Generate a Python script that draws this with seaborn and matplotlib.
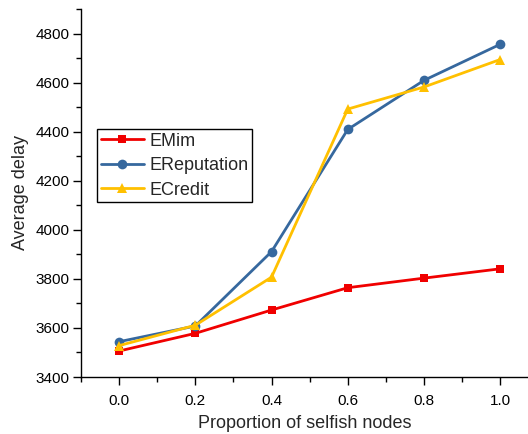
import matplotlib
matplotlib.use("Agg")
import matplotlib.pyplot as plt
import seaborn as sns
import pandas as pd
from matplotlib.ticker import MultipleLocator

# Proportion of selfish nodes and the measured average delay for each scheme
proportions = [0.0, 0.2, 0.4, 0.6, 0.8, 1.0]
emim = [3506, 3578, 3673, 3764, 3803, 3841]
ereputation = [3544, 3608, 3911, 4409, 4609, 4756]
ecredit = [3528, 3611, 3807, 4492, 4582, 4694]

series_names = ["EMim", "EReputation", "ECredit"]
series_colors = ["#F00000", "#36689E", "#FFC000"]
series_markers = ["s", "o", "^"]
marker_sizes = [6, 7, 7.5]

df = pd.DataFrame({
    "proportion": proportions * 3,
    "delay": emim + ereputation + ecredit,
    "scheme": [n for n in series_names for _ in proportions],
})

sns.set_style("ticks")
plt.rcParams["font.family"] = ["Liberation Sans", "DejaVu Sans"]

fig = plt.figure(figsize=(5.28, 4.34), dpi=100)
ax = fig.add_axes([0.1534, 0.1313, 0.8466, 0.8480])

for name, color, marker, ms in zip(series_names, series_colors, series_markers, marker_sizes):
    sub = df[df["scheme"] == name]
    sns.lineplot(data=sub, x="proportion", y="delay", ax=ax, color=color,
                 marker=marker, markersize=ms, markeredgewidth=0,
                 linewidth=2.0, label=name)

ax.set_xlim(-0.1, 1.073)
ax.set_ylim(3400, 4900)
ax.set_xticks(proportions)
ax.set_xticklabels([f"{p:.1f}" for p in proportions])
ax.set_yticks([3400, 3600, 3800, 4000, 4200, 4400, 4600, 4800])
ax.xaxis.set_minor_locator(MultipleLocator(0.1))
ax.yaxis.set_minor_locator(MultipleLocator(100))
ax.tick_params(axis="both", which="major", direction="out", length=6, width=1,
               labelsize=11, color="black", labelcolor="black")
ax.tick_params(axis="x", which="major", pad=6)
ax.tick_params(axis="y", which="major", pad=2)
ax.tick_params(axis="both", which="minor", direction="out", length=3.5, width=1, color="black")

ax.set_xlabel("Proportion of selfish nodes", fontsize=13, labelpad=5)
ax.set_ylabel("Average delay", fontsize=13, labelpad=5)

for side in ["top", "right"]:
    ax.spines[side].set_visible(False)
for side in ["left", "bottom"]:
    ax.spines[side].set_linewidth(1.0)
    ax.spines[side].set_color("black")

leg = ax.legend(loc="upper left", bbox_to_anchor=(0.036, 0.674), fontsize=13,
                frameon=True, fancybox=False, framealpha=1, edgecolor="black",
                borderpad=0.2, labelspacing=0.42, handlelength=2.4,
                handletextpad=0.3, borderaxespad=0)
leg.get_frame().set_linewidth(1.0)

fig.savefig("out.png", dpi=100)
